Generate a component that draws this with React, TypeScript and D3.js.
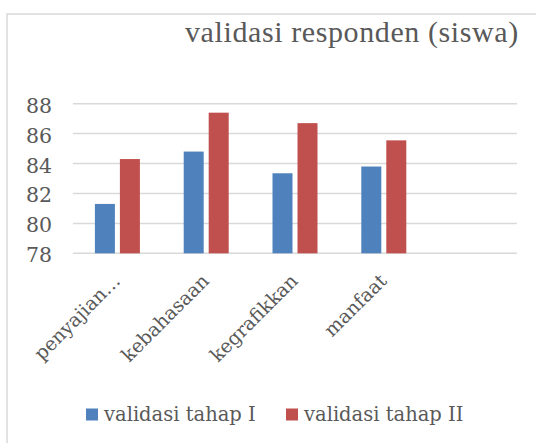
import React from "react";
import * as d3 from "d3";

// chart data
const categories = ["penyajian…", "kebahasaan", "kegrafikkan", "manfaat", ""];
const seriesNames = ["validasi tahap I", "validasi tahap II"];
const tahap1 = [81.3, 84.8, 83.35, 83.8, null];
const tahap2 = [84.3, 87.4, 86.7, 85.55, null];
const yTicks = [78, 80, 82, 84, 86, 88];
const colors = ["#4f81bd", "#c0504d"];

const W = 536;
const H = 443;
const serif = "'DejaVu Serif', serif";

const App = () => {
  const x = d3.scaleBand<string>().domain(categories.map((c, i) => String(i))).range([73, 517]).padding(0);
  const bw = x.bandwidth();
  const inner = d3
    .scaleBand<string>()
    .domain(seriesNames)
    .range([bw * 0.2466, bw * 0.7534])
    .paddingInner(0.2)
    .paddingOuter(0);
  const y = d3.scaleLinear().domain([78, 88]).range([253.3, 103.7]);
  const series = [tahap1, tahap2];

  return (
    <svg
      width={W}
      height={H}
      style={{ position: "absolute", left: 0, top: 0, background: "#fff" }}
    >
      <rect x={7} y={14} width={W + 10} height={H + 10} fill="#fff" stroke="#d9d9d9" strokeWidth={1.5} />

      <text
        x={185}
        y={42}
        fontFamily="'Liberation Serif', serif"
        fontSize={30}
        letterSpacing={0.6}
        fill="#595959"
      >
        validasi responden (siswa)
      </text>

      {/* gridlines */}
      {yTicks.map((t) => (
        <line key={t} x1={73} x2={517} y1={y(t)} y2={y(t)} stroke="#d9d9d9" strokeWidth={1.5} />
      ))}

      {/* y labels */}
      {yTicks.map((t) => (
        <text
          key={"l" + t}
          x={52}
          y={y(t) + 9}
          textAnchor="end"
          fontFamily={serif}
          fontSize={20.5}
          fill="#595959"
        >
          {t}
        </text>
      ))}

      {/* bars */}
      {series.map((vals, si) =>
        vals.map((v, ci) =>
          v == null ? null : (
            <rect
              key={si + "-" + ci}
              x={(x(String(ci)) as number) + (inner(seriesNames[si]) as number)}
              y={y(v)}
              width={inner.bandwidth()}
              height={y(78) - y(v)}
              fill={colors[si]}
            />
          )
        )
      )}

      {/* category labels */}
      {categories.map((c, ci) => {
        const cx = (x(String(ci)) as number) + bw / 2;
        return (
          <text
            key={"c" + ci}
            transform={`translate(${cx + 4},${282}) rotate(-45)`}
            textAnchor="end"
            fontFamily={serif}
            fontSize={19}
            fill="#595959"
          >
            {c}
          </text>
        );
      })}

      {/* legend */}
      {seriesNames.map((s, i) => {
        const lx = i === 0 ? 86 : 286;
        return (
          <g key={s}>
            <rect x={lx} y={408.5} width={12} height={12} fill={colors[i]} />
            <text x={lx + 18} y={421} fontFamily={serif} fontSize={19.5} fill="#595959">
              {s}
            </text>
          </g>
        );
      })}
    </svg>
  );
};

export default App;
